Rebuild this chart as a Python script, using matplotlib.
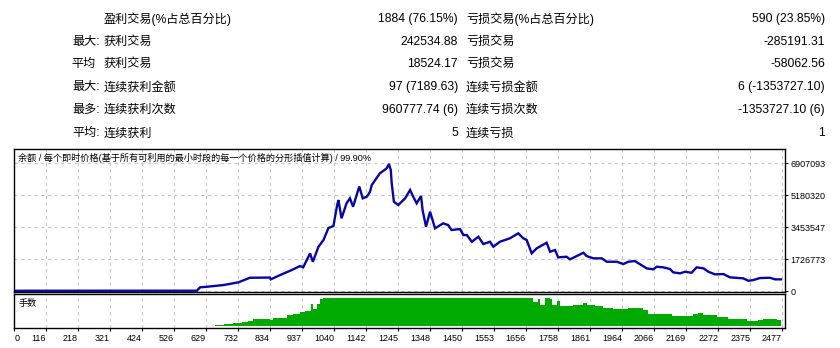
import matplotlib
matplotlib.use('Agg')
from matplotlib import pyplot as plt
import numpy as np

plt.rcParams['font.family'] = ['Liberation Sans', 'Noto Sans CJK SC']

# ----- report table -----
row_prefix = ['', '最大:', '平均', '最大:', '最多:', '平均:']
win_labels = ['盈利交易(%占总百分比)', '获利交易', '获利交易', '连续获利金额', '连续获利次数', '连续获利']
win_values = ['1884 (76.15%)', '242534.88', '18524.17', '97 (7189.63)', '960777.74 (6)', '5']
loss_labels = ['亏损交易(%占总百分比)', '亏损交易', '亏损交易', '连续亏损金额', '连续亏损次数', '连续亏损']
loss_values = ['590 (23.85%)', '-285191.31', '-58062.56', '6 (-1353727.10)', '-1353727.10 (6)', '1']

# ----- balance curve (trade number, balance) -----
bal_trade = [0, 600, 610, 632, 685, 733, 770, 834, 837, 867, 899, 931, 941, 963, 972,
             990, 1006, 1022, 1038, 1050, 1054, 1064, 1080, 1091, 1101, 1121, 1132,
             1145, 1155, 1161, 1187, 1209, 1216, 1222, 1225, 1232, 1246, 1268, 1284,
             1294, 1305, 1319, 1324, 1335, 1348, 1364, 1390, 1406, 1417, 1444, 1455,
             1466, 1482, 1503, 1519, 1540, 1551, 1572, 1604, 1631, 1647, 1658, 1674,
             1690, 1722, 1733, 1749, 1759, 1786, 1797, 1840, 1850, 1872, 1899, 1915,
             1947, 1968, 1984, 2005, 2022, 2043, 2064, 2075, 2096, 2118, 2128, 2150,
             2166, 2187, 2203, 2225, 2241, 2262, 2289, 2310, 2353, 2369, 2385, 2406,
             2438, 2455, 2474]
bal_value = [32000, 35000, 215800, 248200, 340000, 485600, 733900, 744700, 647500,
             879600, 1111600, 1365200, 1295100, 2050500, 1597200, 2406700, 2768200,
             3415700, 3523700, 4656800, 4926600, 3939200, 4748600, 5018400, 4565100,
             5655100, 5018400, 5104700, 5358300, 5736100, 6367400, 6637200, 6869200,
             6545500, 5827800, 4834900, 4656800, 5018400, 5466200, 5104700, 4748600,
             5142500, 4387000, 3485900, 4295300, 3399500, 3669300, 3577600, 3307800,
             3361800, 3038000, 3038000, 2676500, 2946300, 2552400, 2676500, 2406700,
             2676500, 2859900, 3129700, 2859900, 2768200, 2050500, 2320300, 2622500,
             2136900, 2228600, 1834700, 1867100, 1726800, 2082900, 1904800, 1780700,
             1780700, 1597200, 1597200, 1473100, 1597200, 1635000, 1457000, 1241100,
             1187100, 1327400, 1295100, 1203300, 1025300, 971300, 1057600, 1003700,
             1295100, 1241100, 1057600, 917300, 933500, 755500, 701500, 572000,
             609800, 717700, 733900, 647500, 647500]

# ----- lot size per trade -----
lot_trade = [607, 658, 687, 717, 744, 764, 780, 802, 835, 844, 860, 889, 908, 931,
             947, 965, 973, 984, 995, 1004, 1679, 1694, 1701, 1717, 1733, 1738, 1754,
             1765, 1791, 1807, 1840, 1850, 1877, 1904, 1936, 1968, 1984, 2011, 2032,
             2048, 2102, 2123, 2160, 2192, 2208, 2224, 2267, 2305, 2321, 2364, 2380,
             2401, 2417, 2461, 2474]
lot_value = [2.5, 4.6, 8.1, 11.6, 15.2, 19.8, 24.7, 26.8, 22.2, 30.4, 30.4, 38.8,
             43.4, 50.5, 55.1, 78.7, 62.1, 79.8, 95.3, 100, 85.8, 95.3, 74.0, 100,
             95.3, 76.0, 88.3, 71.7, 71.7, 76.2, 83.3, 74.1, 70.6, 64.6, 62.1, 60.0,
             64.6, 64.6, 56.5, 44.5, 44.5, 36.4, 36.4, 44.5, 47.0, 40.9, 32.8, 26.8,
             24.7, 17.7, 19.8, 23.3, 24.7, 22.2, 22.2]

x_ticks = [116, 218, 321, 424, 526, 629, 732, 834, 937, 1040, 1142, 1245, 1348,
           1450, 1553, 1656, 1758, 1861, 1964, 2066, 2169, 2272, 2375, 2477]
y_ticks = [0, 1726773, 3453547, 5180320, 6907093]

W, H = 840, 348
fig = plt.figure(figsize=(W / 100, H / 100), dpi=100)


def fx(px):
    return px / W


def fy(py):
    return 1 - py / H


# table rows
row_y = [19, 41.7, 64.3, 87.3, 110, 133.3]
for i, y in enumerate(row_y):
    pre = row_prefix[i]
    if pre:
        xr = 96 if pre == '平均' else 100
        fig.text(fx(xr), fy(y), pre, ha='right', va='center', fontsize=8.7)
    fig.text(fx(103.5), fy(y), win_labels[i], ha='left', va='center', fontsize=8.7)
    fig.text(fx(458), fy(y), win_values[i], ha='right', va='center', fontsize=8.7)
    fig.text(fx(466), fy(y), loss_labels[i], ha='left', va='center', fontsize=8.7)
    fig.text(fx(825), fy(y), loss_values[i], ha='right', va='center', fontsize=8.7)

left, right = 14.3, 785
x_lo = 14.3
x_hi = 2486.6
step = y_ticks[1]

# main balance panel
ax = fig.add_axes([fx(left), fy(292), fx(right - left), (292 - 149.3) / H])
ax.plot(bal_trade, bal_value, color='#0606A8', lw=1.7, solid_joinstyle='miter')
ax.set_xlim(x_lo, x_hi)
ax.set_ylim(-0.02 * step, y_ticks[-1] + 0.4375 * step)
ax.set_xticks(x_ticks)
ax.set_xticklabels([])
ax.tick_params(axis='x', length=0)
ax.yaxis.tick_right()
ax.set_yticks(y_ticks)
ax.set_yticklabels([str(v) for v in y_ticks])
ax.tick_params(axis='y', length=2.5, width=0.8, pad=1.5, labelsize=6.5, direction='out')
ax.grid(True, color='#c8c8c8', linestyle=(0, (3, 3)), linewidth=0.8)
ax.set_axisbelow(True)
for s in ax.spines.values():
    s.set_linewidth(1.0)
    s.set_color('black')
ax.text(0.005, 0.94, '余额 / 每个即时价格(基于所有可利用的最小时段的每一个价格的分形插值计算) / 99.90%',
        transform=ax.transAxes, ha='left', va='center', fontsize=6.6)

# lot size panel
ax2 = fig.add_axes([fx(left), fy(327.7), fx(right - left), (327.7 - 294.3) / H])
ax2.fill_between(lot_trade, lot_value, 0, step='post', color='#00AA00', lw=0)
ax2.set_xlim(x_lo, x_hi)
ax2.set_ylim(-4.9, 113)
ax2.set_yticks([])
ax2.set_xticks([x_lo] + x_ticks)
ax2.set_xticklabels(['0'] + [str(v) for v in x_ticks])
ax2.tick_params(axis='x', length=2.5, width=0.8, pad=2, labelsize=6.5, direction='out')
labs = ax2.get_xticklabels()
labs[0].set_ha('left')
for lab in labs[1:]:
    lab.set_ha('right')
ax2.grid(True, axis='x', color='#c8c8c8', linestyle=(0, (3, 3)), linewidth=0.8)
ax2.set_axisbelow(True)
for s in ax2.spines.values():
    s.set_linewidth(1.0)
    s.set_color('black')
ax2.text(0.005, 0.72, '手数', transform=ax2.transAxes, ha='left', va='center', fontsize=6.6)

fig.savefig('out.png', dpi=100)
